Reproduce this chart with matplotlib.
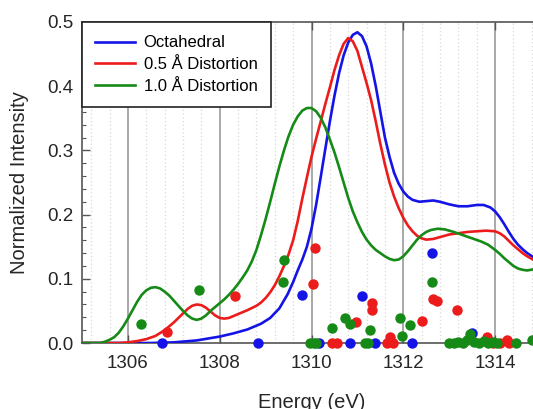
import matplotlib
matplotlib.use("Agg")
import matplotlib.pyplot as plt
from matplotlib.ticker import MultipleLocator, FormatStrFormatter

plt.rcParams['font.family'] = ['Liberation Sans', 'DejaVu Sans']

# calculated spectra (energy in eV, normalized intensity)
oct_e = [1305.0, 1306.5, 1307.0, 1307.5, 1308.0, 1308.3, 1308.6, 1308.9, 1309.1, 1309.3,
         1309.48, 1309.6, 1309.7, 1309.8, 1309.9, 1310.0, 1310.1, 1310.2, 1310.3, 1310.4,
         1310.5, 1310.6, 1310.7, 1310.8, 1310.9, 1311.0, 1311.1, 1311.2, 1311.3, 1311.4,
         1311.5, 1311.6, 1311.7, 1311.8, 1311.9, 1312.0, 1312.1, 1312.2, 1312.35, 1312.5,
         1312.65, 1312.8, 1313.0, 1313.2, 1313.4, 1313.6, 1313.75, 1313.9, 1314.0, 1314.1,
         1314.2, 1314.3, 1314.4, 1314.5, 1314.6, 1314.7, 1314.85, 1315.0]
oct_i = [0.0, 0.0, 0.001, 0.004, 0.01, 0.015, 0.021, 0.03, 0.039, 0.054,
         0.076, 0.095, 0.113, 0.13, 0.15, 0.178, 0.215, 0.258, 0.302, 0.345,
         0.385, 0.42, 0.448, 0.468, 0.48, 0.484, 0.478, 0.462, 0.435, 0.4,
         0.36, 0.32, 0.29, 0.265, 0.248, 0.236, 0.228, 0.223, 0.22, 0.221,
         0.222, 0.22, 0.216, 0.213, 0.213, 0.215, 0.215, 0.211, 0.205, 0.196,
         0.185, 0.173, 0.162, 0.153, 0.146, 0.14, 0.133, 0.128]

d05_e = [1305.0, 1305.8, 1306.0, 1306.2, 1306.4, 1306.6, 1306.8, 1306.9, 1307.0, 1307.1,
         1307.2, 1307.3, 1307.4, 1307.5, 1307.6, 1307.7, 1307.8, 1307.9, 1308.0, 1308.1,
         1308.2, 1308.3, 1308.4, 1308.6, 1308.8, 1308.9, 1309.0, 1309.1, 1309.2, 1309.3,
         1309.4, 1309.5, 1309.6, 1309.7, 1309.8, 1309.9, 1310.0, 1310.1, 1310.2, 1310.3,
         1310.4, 1310.5, 1310.6, 1310.7, 1310.8, 1310.9, 1311.0, 1311.1, 1311.2, 1311.3,
         1311.4, 1311.5, 1311.6, 1311.7, 1311.8, 1311.9, 1312.0, 1312.1, 1312.2, 1312.3,
         1312.4, 1312.5, 1312.65, 1312.8, 1313.0, 1313.2, 1313.4, 1313.6, 1313.8, 1314.0,
         1314.1, 1314.2, 1314.3, 1314.4, 1314.5, 1314.6, 1314.7, 1314.85, 1315.0]
d05_i = [0.0, 0.0, 0.001, 0.003, 0.006, 0.011, 0.02, 0.026, 0.032, 0.039,
         0.046, 0.053, 0.058, 0.06, 0.059, 0.055, 0.049, 0.043, 0.039, 0.038,
         0.039, 0.042, 0.045, 0.051, 0.058, 0.063, 0.07, 0.079, 0.09, 0.104,
         0.12, 0.138, 0.16, 0.19, 0.225, 0.258, 0.29, 0.318, 0.345, 0.372,
         0.398, 0.425, 0.448, 0.466, 0.475, 0.47, 0.455, 0.43, 0.405, 0.378,
         0.345, 0.31, 0.278, 0.25, 0.228, 0.21, 0.195, 0.183, 0.174, 0.167,
         0.163, 0.161, 0.162, 0.165, 0.169, 0.171, 0.173, 0.174, 0.175, 0.174,
         0.171, 0.166, 0.159, 0.152, 0.146, 0.14, 0.135, 0.129, 0.124]

d10_e = [1305.0, 1305.4, 1305.5, 1305.6, 1305.7, 1305.8, 1305.9, 1306.0, 1306.1, 1306.2,
         1306.3, 1306.4, 1306.5, 1306.6, 1306.7, 1306.8, 1306.9, 1307.0, 1307.1, 1307.2,
         1307.3, 1307.4, 1307.5, 1307.6, 1307.7, 1307.8, 1307.9, 1308.0, 1308.1, 1308.2,
         1308.3, 1308.4, 1308.5, 1308.6, 1308.7, 1308.8, 1308.9, 1309.0, 1309.1, 1309.2,
         1309.3, 1309.4, 1309.5, 1309.6, 1309.7, 1309.8, 1309.9, 1310.0, 1310.1, 1310.2,
         1310.3, 1310.4, 1310.5, 1310.6, 1310.7, 1310.8, 1310.9, 1311.0, 1311.1, 1311.2,
         1311.3, 1311.4, 1311.5, 1311.6, 1311.7, 1311.8, 1311.9, 1312.0, 1312.1, 1312.2,
         1312.3, 1312.4, 1312.5, 1312.6, 1312.75, 1312.9, 1313.1, 1313.3, 1313.5, 1313.7,
         1313.85, 1314.0, 1314.1, 1314.2, 1314.3, 1314.4, 1314.5, 1314.6, 1314.7, 1314.85,
         1315.0]
d10_i = [0.0, 0.0, 0.002, 0.005, 0.009, 0.016, 0.026, 0.038, 0.051, 0.064,
         0.075, 0.082, 0.086, 0.087, 0.085, 0.08, 0.074, 0.066, 0.058, 0.05,
         0.043, 0.038, 0.036, 0.038, 0.043, 0.05, 0.056, 0.062, 0.068, 0.075,
         0.083, 0.092, 0.102, 0.113, 0.127, 0.145, 0.168, 0.193, 0.22, 0.248,
         0.275, 0.3, 0.322, 0.34, 0.353, 0.362, 0.366, 0.366, 0.361, 0.351,
         0.336, 0.317, 0.297, 0.274, 0.25, 0.226, 0.205, 0.188, 0.173, 0.161,
         0.152, 0.145, 0.14, 0.135, 0.131, 0.129, 0.13, 0.135, 0.143, 0.152,
         0.161, 0.168, 0.173, 0.176, 0.178, 0.177, 0.173, 0.168, 0.163, 0.158,
         0.153, 0.145, 0.139, 0.132, 0.126, 0.12, 0.116, 0.114, 0.113, 0.115,
         0.118]

# transition sticks (dots)
oct_se = [1306.74, 1308.84, 1309.8, 1310.17, 1310.83, 1311.09, 1311.38, 1312.2, 1312.62, 1313.5]
oct_si = [0.0, 0.0, 0.075, 0.0, 0.0, 0.073, 0.0, 0.0, 0.14, 0.016]

d05_se = [1306.85, 1308.34, 1310.03, 1310.07, 1310.45, 1310.55, 1310.98, 1311.31, 1311.31,
          1311.65, 1311.72, 1311.78, 1312.4, 1312.64, 1312.73, 1313.17, 1313.82, 1313.95,
          1314.1, 1314.26, 1314.3]
d05_si = [0.017, 0.073, 0.092, 0.148, 0.0, 0.0, 0.033, 0.062, 0.051,
          0.0, 0.01, 0.0, 0.035, 0.068, 0.066, 0.052, 0.009, 0.0,
          0.0, 0.004, 0.0]

d10_se = [1306.28, 1307.55, 1309.37, 1309.41, 1309.97, 1310.05, 1310.1, 1310.45, 1310.72,
          1310.83, 1311.16, 1311.23, 1311.27, 1311.92, 1311.97, 1312.14, 1312.62, 1313.0,
          1313.1, 1313.2, 1313.3, 1313.38, 1313.46, 1313.55, 1313.65, 1313.75, 1313.85,
          1313.95, 1314.05, 1314.45, 1314.8]
d10_si = [0.03, 0.083, 0.095, 0.13, 0.0, 0.0, 0.0, 0.023, 0.039,
          0.03, 0.0, 0.0, 0.02, 0.039, 0.011, 0.028, 0.095, 0.0,
          0.0, 0.002, 0.0, 0.004, 0.014, 0.002, 0.0, 0.003, 0.0,
          0.002, 0.0, 0.0, 0.005]

blue = '#1414e6'
red = '#ec1c1c'
green = '#168a16'
txt = '#262626'

fig = plt.figure(figsize=(5.33, 4.09), dpi=100)
ax = fig.add_axes([82/533, 66/409, 459/533, 321/409])

ax.plot(oct_e, oct_i, color=blue, lw=1.9, label='Octahedral', zorder=3)
ax.plot(d05_e, d05_i, color=red, lw=1.9, label='0.5 Å Distortion', zorder=3)
ax.plot(d10_e, d10_i, color=green, lw=1.9, label='1.0 Å Distortion', zorder=3)

ax.plot(oct_se, oct_si, 'o', color=blue, ms=7.5, mec='none', zorder=4, clip_on=False)
ax.plot(d05_se, d05_si, 'o', color=red, ms=7.5, mec='none', zorder=4, clip_on=False)
ax.plot(d10_se, d10_si, 'o', color=green, ms=7.5, mec='none', zorder=4, clip_on=False)

ax.set_xlim(1305, 1315)
ax.set_ylim(0, 0.5)
ax.xaxis.set_major_locator(MultipleLocator(2))
ax.xaxis.set_minor_locator(MultipleLocator(0.4))
ax.yaxis.set_major_locator(MultipleLocator(0.1))
ax.yaxis.set_minor_locator(MultipleLocator(0.02))
ax.yaxis.set_major_formatter(FormatStrFormatter('%.1f'))

ax.grid(axis='x', which='major', color='#a8a8a8', lw=1.4, zorder=1)
ax.grid(axis='x', which='minor', color='#d8d8d8', lw=0.9, ls=(0, (1, 2)), zorder=1)
ax.set_axisbelow(True)

ax.tick_params(which='both', direction='in', top=True, right=False, colors='#555555',
               labelcolor=txt, labelsize=13.5)
ax.tick_params(which='major', length=6, width=1)
ax.tick_params(which='minor', length=3, width=0.8)
ax.tick_params(axis='x', which='minor', length=0)
ax.tick_params(axis='x', pad=8.5)
ax.tick_params(axis='y', pad=6)

for s in ['left', 'bottom', 'top']:
    ax.spines[s].set_color('#555555')
    ax.spines[s].set_linewidth(1.2)
ax.spines['right'].set_visible(False)

ax.set_xlabel('Energy (eV)', fontsize=14.5, color=txt, labelpad=15)
ax.set_ylabel('Normalized Intensity', fontsize=14.5, color=txt, labelpad=13)

leg = ax.legend(loc='upper left', fontsize=12, frameon=True, fancybox=False,
                edgecolor='#222222', borderaxespad=0, handlelength=2.35,
                handletextpad=0.55, labelspacing=0.41, borderpad=0.8)
leg.get_frame().set_linewidth(1.2)
leg.get_frame().set_alpha(1)

fig.savefig('out.png', dpi=100)
